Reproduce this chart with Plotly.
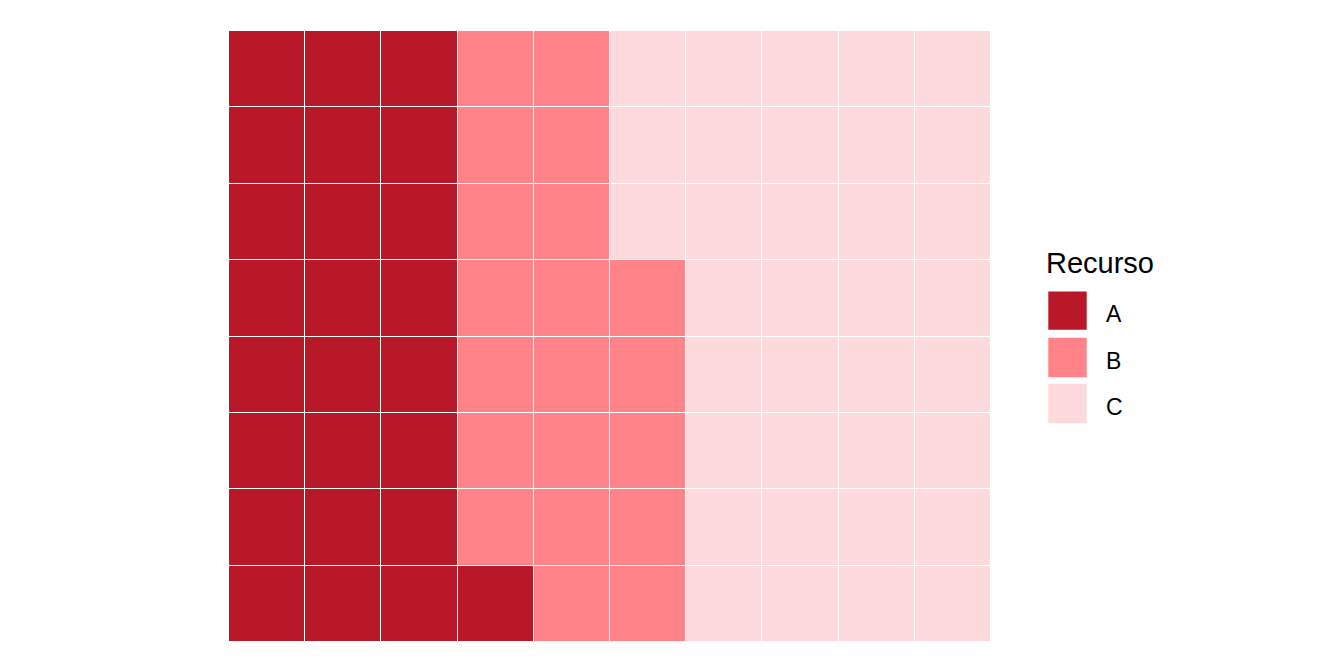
import plotly.graph_objects as go

categories = ["A", "B", "C"]
counts = [25, 20, 35]
colors = ["#B91829", "#FF8388", "#FFDADD"]
n_rows = 8
legend_title = "Recurso"

# build waffle cells column-wise from bottom
cells = []
for cat, n in zip(categories, counts):
    cells += [cat] * n

fig = go.Figure()
for cat, col in zip(categories, colors):
    xs, bases = [], []
    for i, c in enumerate(cells):
        if c == cat:
            xs.append(i // n_rows + 1)
            bases.append(i % n_rows + 0.5)
    fig.add_trace(go.Bar(
        x=xs, y=[1] * len(xs), base=bases, width=1,
        marker=dict(color=col, line=dict(color="white", width=1)),
        name=cat, showlegend=False, hoverinfo="skip",
    ))

# legend drawn manually as ggplot-style keys
key_y = [(0.5738, 0.5110), (0.4979, 0.4333), (0.4225, 0.3579)]
for cat, col, (y1, y0) in zip(categories, colors, key_y):
    fig.add_shape(type="rect", xref="paper", yref="paper",
                  x0=1.0752, x1=1.1256, y0=y0, y1=y1,
                  fillcolor=col, line=dict(width=0))
    fig.add_annotation(xref="paper", yref="paper", x=1.1480, y=(y0 + y1) / 2 - 0.005,
                       text=cat, showarrow=False, xanchor="left", yanchor="middle",
                       font=dict(size=23, color="black", family="Liberation Sans, Arial"))
fig.add_annotation(xref="paper", yref="paper", x=1.0700, y=0.621,
                   text=legend_title, showarrow=False, xanchor="left", yanchor="middle",
                   font=dict(size=29, color="black", family="Liberation Sans, Arial"))

fig.update_layout(
    width=1344, height=672,
    margin=dict(l=221, r=361, t=23, b=38),
    plot_bgcolor="white", paper_bgcolor="white",
    barmode="overlay", bargap=0,
    xaxis=dict(range=[0.5, 10.5], visible=False, fixedrange=True),
    yaxis=dict(range=[0.5, 8.5], visible=False, fixedrange=True),
)
fig.write_html("out.html")
